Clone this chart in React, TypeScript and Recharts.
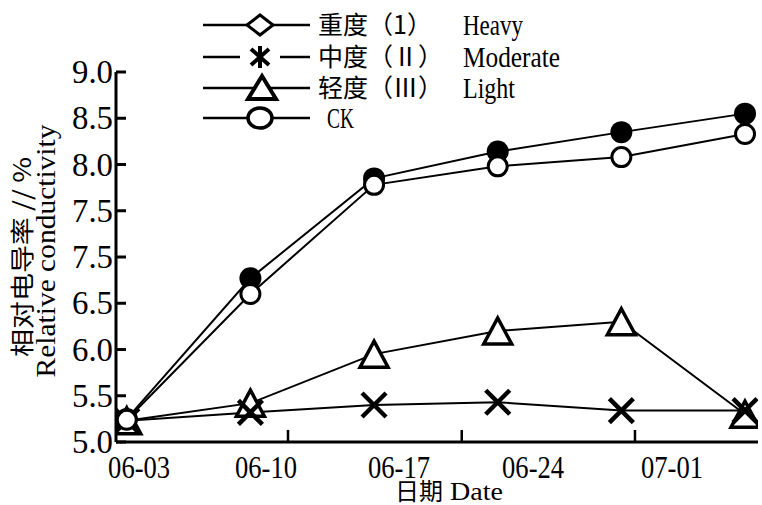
import { LineChart, Line, XAxis, YAxis } from "recharts";

// sampling index along the x axis (the plotted points)
const SAMPLES = [0, 1, 2, 3, 4, 5];
const HEAVY = [5.25, 6.77, 7.85, 8.14, 8.35, 8.55];
const MODERATE = [5.23, 5.32, 5.4, 5.43, 5.34, 5.34];
const LIGHT = [5.23, 5.42, 5.95, 6.2, 6.3, 5.3];
const CK = [5.24, 6.6, 7.78, 7.98, 8.08, 8.33];

const Y_TICKS = [5, 5.5, 6, 6.5, 7, 7.5, 8, 8.5, 9];
const Y_TICK_LABELS = ["5.0", "5.5", "6.0", "6.5", "7.5", "7.5", "8.0", "8.5", "9.0"];
const X_LABELS = ["06-03", "06-10", "06-17", "06-24", "07-01"];
const X_LABEL_AT = [0.1, 1.126, 2.202, 3.286, 4.41];
const X_TICK_AT = [1.304, 2.709, 4.11];

const LEGEND_CN = ["重度（1）", "中度（Ⅱ）", "轻度（Ⅲ）"];
const LEGEND_EN = ["Heavy", "Moderate", "Light"];
const CK_NAME = "CK";

const SERIF = "'Liberation Serif', 'Times New Roman', serif";
const CJK = "'Noto Sans CJK SC', sans-serif";

const data = SAMPLES.map((x, i) => ({
  x,
  heavy: HEAVY[i],
  moderate: MODERATE[i],
  light: LIGHT[i],
  ck: CK[i],
}));

// eslint-disable-next-line @typescript-eslint/no-explicit-any
function YTick({ x, y, payload }: any) {
  const i = Y_TICKS.indexOf(payload.value);
  return (
    <text x={x} y={y} dy={11} textAnchor="end" fontSize={33} fontFamily={SERIF}
      textLength={41} lengthAdjust="spacingAndGlyphs" fill="#000">
      {Y_TICK_LABELS[i]}
    </text>
  );
}

// eslint-disable-next-line @typescript-eslint/no-explicit-any
function XTick({ x, y, payload }: any) {
  const li = X_LABEL_AT.indexOf(payload.value);
  if (li < 0) {
    return <line x1={x} x2={x} y1={y} y2={y - 12} stroke="#000" strokeWidth={2.5} />;
  }
  return (
    <text x={x} y={y + 36} textAnchor="middle" fontSize={31} fontFamily={SERIF}
      textLength={62} lengthAdjust="spacingAndGlyphs" fill="#000">
      {X_LABELS[li]}
    </text>
  );
}

// eslint-disable-next-line @typescript-eslint/no-explicit-any
function YTitle({ viewBox }: any) {
  const cy = viewBox.y + viewBox.height / 2;
  return (
    <g>
      <text transform={`translate(${viewBox.x + 31},${cy}) rotate(-90)`} textAnchor="middle"
        fontSize={24} fontFamily={CJK} textLength={200} lengthAdjust="spacingAndGlyphs" fill="#000">
        相对电导率 // %
      </text>
      <text transform={`translate(${viewBox.x + 55},${cy - 6}) rotate(-90)`} textAnchor="middle"
        fontSize={28} fontFamily={SERIF} textLength={253} lengthAdjust="spacingAndGlyphs" fill="#000">
        Relative conductivity
      </text>
    </g>
  );
}

// eslint-disable-next-line @typescript-eslint/no-explicit-any
function XTitle({ viewBox }: any) {
  const cx = viewBox.x + viewBox.width / 2;
  const by = viewBox.y + 58;
  return (
    <g>
      <text x={cx - 42} y={by} fontSize={24} fontFamily={CJK} fill="#000">日期</text>
      <text x={cx + 13} y={by} fontSize={26} fontFamily={SERIF} textLength={53}
        lengthAdjust="spacingAndGlyphs" fill="#000">Date</text>
    </g>
  );
}

// eslint-disable-next-line @typescript-eslint/no-explicit-any
const heavyDot = (p: any) => (
  <circle key={`h${p.index}`} cx={p.cx} cy={p.cy} r={11} fill="#000" />
);
// eslint-disable-next-line @typescript-eslint/no-explicit-any
const ckDot = (p: any) => (
  <circle key={`c${p.index}`} cx={p.cx} cy={p.cy} r={9.5} fill="#fff" stroke="#000" strokeWidth={3} />
);
// eslint-disable-next-line @typescript-eslint/no-explicit-any
const lightDot = (p: any) => (
  <path key={`l${p.index}`}
    d={`M${p.cx},${p.cy - 13} L${p.cx + 14},${p.cy + 13} L${p.cx - 14},${p.cy + 13} Z`}
    fill="#fff" stroke="#000" strokeWidth={3.5} />
);
// eslint-disable-next-line @typescript-eslint/no-explicit-any
const moderateDot = (p: any) => (
  <g key={`m${p.index}`} stroke="#000" strokeWidth={4.5}>
    <line x1={p.cx - 12} y1={p.cy - 12} x2={p.cx + 12} y2={p.cy + 12} />
    <line x1={p.cx - 12} y1={p.cy + 12} x2={p.cx + 12} y2={p.cy - 12} />
  </g>
);

function LegendMarker({ kind, cy }: { kind: number; cy: number }) {
  const cx = 260;
  if (kind === 0) {
    return <path d={`M${cx},${cy - 10} L${cx + 13},${cy} L${cx},${cy + 10} L${cx - 13},${cy} Z`}
      fill="#fff" stroke="#000" strokeWidth={3} />;
  }
  if (kind === 1) {
    return (
      <g stroke="#000" strokeWidth={4}>
        <line x1={cx} y1={cy - 11} x2={cx} y2={cy + 11} />
        <line x1={cx - 9} y1={cy - 8} x2={cx + 9} y2={cy + 8} />
        <line x1={cx - 9} y1={cy + 8} x2={cx + 9} y2={cy - 8} />
      </g>
    );
  }
  if (kind === 2) {
    return <path d={`M${cx + 2},${cy - 12} L${cx + 16},${cy + 11} L${cx - 12},${cy + 11} Z`}
      fill="#fff" stroke="#000" strokeWidth={4} />;
  }
  return <ellipse cx={cx} cy={cy} rx={12} ry={10} fill="#fff" stroke="#000" strokeWidth={3.5} />;
}

const LEGEND_ROWS = [25, 57, 88, 118];

function LegendBox() {
  return (
    <svg width={762} height={140} style={{ position: "absolute", left: 0, top: 0 }}>
      {LEGEND_ROWS.map((cy, i) => (
        <g key={i}>
          {i === 1 ? (
            <g stroke="#000" strokeWidth={2.5}>
              <line x1={203} x2={240} y1={cy} y2={cy} />
              <line x1={280} x2={310} y1={cy} y2={cy} />
            </g>
          ) : (
            <line x1={203} x2={310} y1={cy} y2={cy} stroke="#000" strokeWidth={2.5} />
          )}
          <LegendMarker kind={i} cy={cy} />
          {i < 3 ? (
            <>
              <text x={318} y={cy + 9} fontSize={25} fontFamily={CJK} fill="#000">{LEGEND_CN[i]}</text>
              <text x={463} y={cy + 10} fontSize={30} fontFamily={SERIF} fill="#000"
                textLength={[60, 97, 52][i]} lengthAdjust="spacingAndGlyphs">{LEGEND_EN[i]}</text>
            </>
          ) : (
            <text x={327} y={cy + 10} fontSize={30} fontFamily={SERIF} fill="#000"
              textLength={27} lengthAdjust="spacingAndGlyphs">{CK_NAME}</text>
          )}
        </g>
      ))}
    </svg>
  );
}

export default function App() {
  const ticksX = [...X_LABEL_AT, ...X_TICK_AT].sort((a, b) => a - b);
  return (
    <div style={{ position: "absolute", left: 0, top: 0, width: 762, height: 505, background: "#fff" }}>
      <LineChart width={762} height={505} data={data} margin={{ top: 72, right: 4, bottom: 0, left: 0 }}>
        <XAxis type="number" dataKey="x" domain={[-0.087, 5.105]} ticks={ticksX} interval={0}
          allowDataOverflow tickSize={0} tickMargin={0} tickLine={false} tick={XTick}
          axisLine={{ stroke: "#000", strokeWidth: 3 }} height={63} label={XTitle} />
        <YAxis type="number" domain={[5, 9]} ticks={Y_TICKS} interval={0} width={116}
          allowDataOverflow tickSize={-10} tickMargin={13} tick={YTick}
          tickLine={{ stroke: "#000", strokeWidth: 3 }} axisLine={{ stroke: "#000", strokeWidth: 3 }}
          label={YTitle} />
        <Line dataKey="light" stroke="#000" strokeWidth={2} dot={lightDot} activeDot={false} isAnimationActive={false} />
        <Line dataKey="moderate" stroke="#000" strokeWidth={2} dot={moderateDot} activeDot={false} isAnimationActive={false} />
        <Line dataKey="heavy" stroke="#000" strokeWidth={2} dot={heavyDot} activeDot={false} isAnimationActive={false} />
        <Line dataKey="ck" stroke="#000" strokeWidth={2} dot={ckDot} activeDot={false} isAnimationActive={false} />
      </LineChart>
      <LegendBox />
    </div>
  );
}
